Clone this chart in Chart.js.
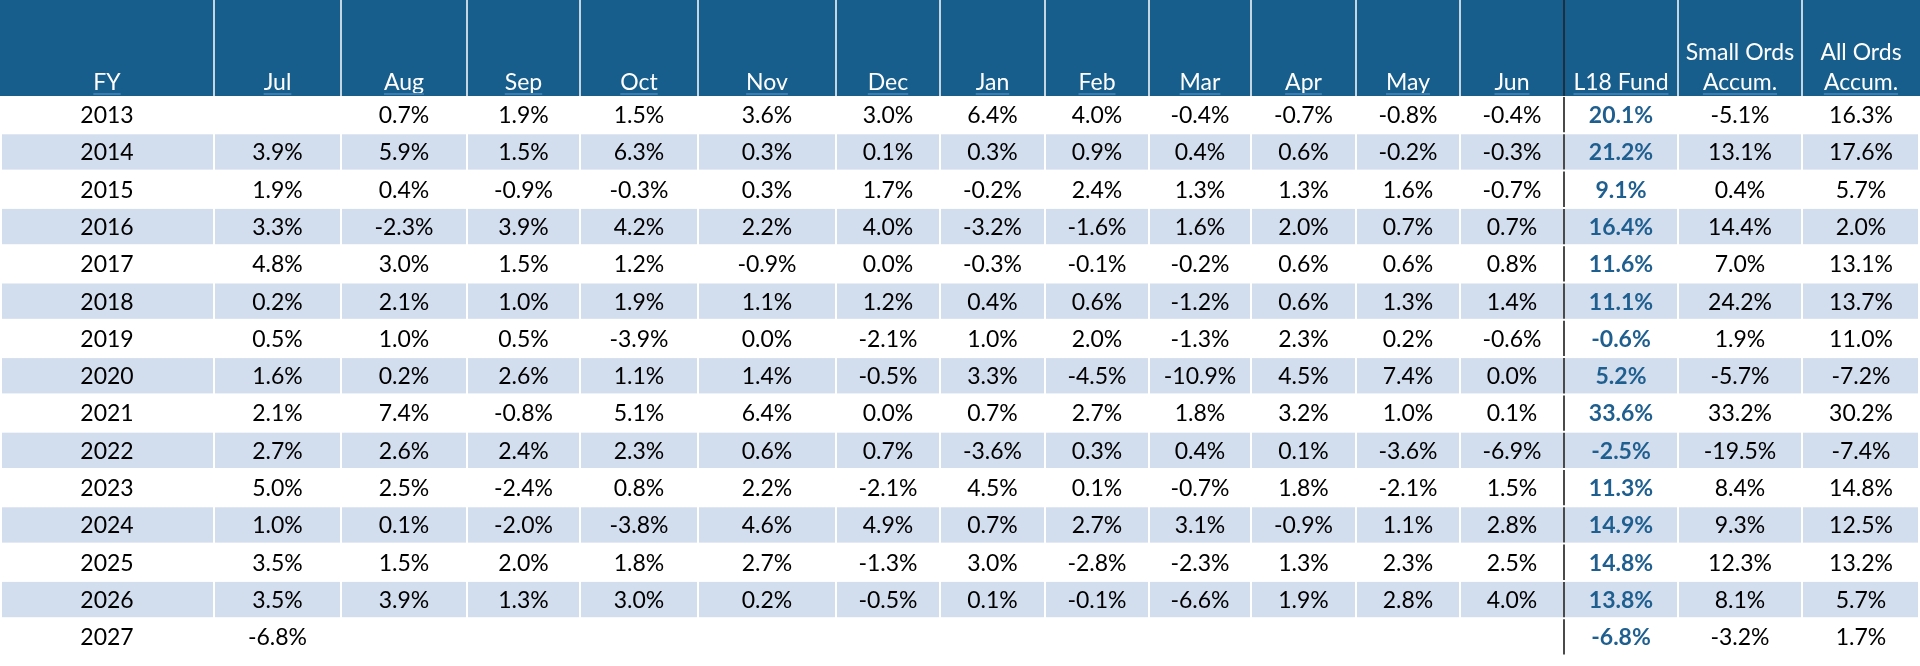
<!DOCTYPE html>
<html>
<head>
<meta charset="utf-8">
<title>L18 Fund monthly returns</title>
<script src="https://cdn.jsdelivr.net/npm/chart.js@4.4.1/dist/chart.umd.min.js"></script>
<style>
    html, body { margin: 0; padding: 0; background: #ffffff; }
    #wrap { width: 1920px; height: 666px; position: relative; }
</style>
</head>
<body>
<div id="wrap"><canvas id="table"></canvas></div>
<script>
// ---- data ----
const years = [2013, 2014, 2015, 2016, 2017, 2018, 2019, 2020, 2021, 2022, 2023, 2024, 2025, 2026, 2027];
const headerLabels = [['FY'], ['Jul'], ['Aug'], ['Sep'], ['Oct'], ['Nov'], ['Dec'], ['Jan'], ['Feb'], ['Mar'], ['Apr'], ['May'], ['Jun'],
    ['L18 Fund'], ['Small Ords', 'Accum.'], ['All Ords', 'Accum.']];

const jul = [null, 3.9, 1.9, 3.3, 4.8, 0.2, 0.5, 1.6, 2.1, 2.7, 5.0, 1.0, 3.5, 3.5, -6.8];
const aug = [0.7, 5.9, 0.4, -2.3, 3.0, 2.1, 1.0, 0.2, 7.4, 2.6, 2.5, 0.1, 1.5, 3.9, null];
const sep = [1.9, 1.5, -0.9, 3.9, 1.5, 1.0, 0.5, 2.6, -0.8, 2.4, -2.4, -2.0, 2.0, 1.3, null];
const oct = [1.5, 6.3, -0.3, 4.2, 1.2, 1.9, -3.9, 1.1, 5.1, 2.3, 0.8, -3.8, 1.8, 3.0, null];
const nov = [3.6, 0.3, 0.3, 2.2, -0.9, 1.1, 0.0, 1.4, 6.4, 0.6, 2.2, 4.6, 2.7, 0.2, null];
const dec = [3.0, 0.1, 1.7, 4.0, 0.0, 1.2, -2.1, -0.5, 0.0, 0.7, -2.1, 4.9, -1.3, -0.5, null];
const jan = [6.4, 0.3, -0.2, -3.2, -0.3, 0.4, 1.0, 3.3, 0.7, -3.6, 4.5, 0.7, 3.0, 0.1, null];
const feb = [4.0, 0.9, 2.4, -1.6, -0.1, 0.6, 2.0, -4.5, 2.7, 0.3, 0.1, 2.7, -2.8, -0.1, null];
const mar = [-0.4, 0.4, 1.3, 1.6, -0.2, -1.2, -1.3, -10.9, 1.8, 0.4, -0.7, 3.1, -2.3, -6.6, null];
const apr = [-0.7, 0.6, 1.3, 2.0, 0.6, 0.6, 2.3, 4.5, 3.2, 0.1, 1.8, -0.9, 1.3, 1.9, null];
const may = [-0.8, -0.2, 1.6, 0.7, 0.6, 1.3, 0.2, 7.4, 1.0, -3.6, -2.1, 1.1, 2.3, 2.8, null];
const jun = [-0.4, -0.3, -0.7, 0.7, 0.8, 1.4, -0.6, 0.0, 0.1, -6.9, 1.5, 2.8, 2.5, 4.0, null];
const l18Fund = [20.1, 21.2, 9.1, 16.4, 11.6, 11.1, -0.6, 5.2, 33.6, -2.5, 11.3, 14.9, 14.8, 13.8, -6.8];
const smallOrds = [-5.1, 13.1, 0.4, 14.4, 7.0, 24.2, 1.9, -5.7, 33.2, -19.5, 8.4, 9.3, 12.3, 8.1, -3.2];
const allOrds = [16.3, 17.6, 5.7, 2.0, 13.1, 13.7, 11.0, -7.2, 30.2, -7.4, 14.8, 12.5, 13.2, 5.7, 1.7];

const columns = [years, jul, aug, sep, oct, nov, dec, jan, feb, mar, apr, may, jun, l18Fund, smallOrds, allOrds];

// ---- layout (table units = reference pixels) ----
const colEdges = [0, 214, 341, 467, 580, 698, 836, 940, 1045, 1149, 1251, 1356, 1460, 1564, 1678, 1802, 1920];
const headerPx = 96;
const rowPx = 37.3;
const heightPx = 666;
const headerRows = headerPx / rowPx;
const bottomRows = (heightPx - headerPx - years.length * rowPx) / rowPx;
const fundCol = 13;

const HEADER_BG = '#175e8c';
const STRIPE_BG = '#d2ddee';
const FUND_TEXT = '#1f5f8f';
const FONT = '"Lato", "Noto Sans", sans-serif';
const FONT_PX = 23;

function fmt(col, v) {
    if (col === 0) return String(v);
    return v.toFixed(1) + '%';
}

const datasets = columns.map((values, c) => ({
    label: headerLabels[c].join(' '),
    data: values.map((v, i) => ({ x: (colEdges[c] + colEdges[c + 1]) / 2, y: i + 0.5, v: v })),
    pointRadius: 0,
    pointHoverRadius: 0,
    showLine: false,
}));

const tablePlugin = {
    id: 'tablePlugin',
    beforeDatasetsDraw(chart) {
        const { ctx, scales: { x, y } } = chart;
        ctx.save();
        const top = y.getPixelForValue(-headerRows);
        const hb = y.getPixelForValue(0);
        // header block
        ctx.fillStyle = HEADER_BG;
        ctx.fillRect(x.getPixelForValue(0), top, x.getPixelForValue(1920) - x.getPixelForValue(0), hb - top);
        ctx.strokeStyle = '#ffffff';
        ctx.lineWidth = 1.5;
        for (let c = 1; c < colEdges.length - 1; c++) {
            if (c === fundCol) continue;
            const px = x.getPixelForValue(colEdges[c]);
            ctx.beginPath();
            ctx.moveTo(px, top);
            ctx.lineTo(px, hb);
            ctx.stroke();
        }
        // striped rows
        ctx.fillStyle = STRIPE_BG;
        for (let i = 1; i < years.length; i += 2) {
            const y0 = y.getPixelForValue(i) + 1;
            const y1 = y.getPixelForValue(i + 1) - 1;
            for (let c = 0; c < colEdges.length - 1; c++) {
                const x0 = x.getPixelForValue(colEdges[c]) + (c === 0 ? 2 : 1);
                const x1 = x.getPixelForValue(colEdges[c + 1]) - (c === colEdges.length - 2 ? 2 : 1);
                ctx.fillRect(x0, y0, x1 - x0, y1 - y0);
            }
        }
        // divider before the fund column
        const fx = x.getPixelForValue(colEdges[fundCol]);
        ctx.strokeStyle = '#1c2f40';
        ctx.lineWidth = 2;
        ctx.beginPath();
        ctx.moveTo(fx, top);
        ctx.lineTo(fx, hb);
        ctx.stroke();
        ctx.strokeStyle = '#4a4a4a';
        for (let i = 0; i < years.length; i++) {
            ctx.beginPath();
            ctx.moveTo(fx, y.getPixelForValue(i) + 1);
            ctx.lineTo(fx, y.getPixelForValue(i + 1) - 1);
            ctx.stroke();
        }
        ctx.restore();
    },
    afterDatasetsDraw(chart) {
        const { ctx, scales: { x, y } } = chart;
        ctx.save();
        ctx.textAlign = 'center';
        // header labels, bottom aligned
        const hb = y.getPixelForValue(0);
        ctx.font = FONT_PX + 'px ' + FONT;
        headerLabels.forEach((lines, c) => {
            const cx = x.getPixelForValue((colEdges[c] + colEdges[c + 1]) / 2);
            ctx.textBaseline = 'alphabetic';
            ctx.fillStyle = '#ffffff';
            lines.forEach((line, k) => {
                const base = hb - 6 - (lines.length - 1 - k) * 30;
                ctx.fillText(line, cx, base);
            });
            const w = ctx.measureText(lines[lines.length - 1]).width;
            ctx.strokeStyle = '#3d7cae';
            ctx.lineWidth = 2;
            ctx.beginPath();
            ctx.moveTo(cx - w / 2, hb - 2);
            ctx.lineTo(cx + w / 2, hb - 2);
            ctx.stroke();
        });
        // cell values at the points placed by the scales
        ctx.textBaseline = 'middle';
        chart.data.datasets.forEach((ds, c) => {
            const meta = chart.getDatasetMeta(c);
            if (c === fundCol) {
                ctx.font = 'bold ' + FONT_PX + 'px ' + FONT;
                ctx.fillStyle = FUND_TEXT;
            } else {
                ctx.font = FONT_PX + 'px ' + FONT;
                ctx.fillStyle = '#000000';
            }
            meta.data.forEach((pt, i) => {
                const v = ds.data[i].v;
                if (v === null || v === undefined) return;
                ctx.fillText(fmt(c, v), pt.x, pt.y + 1);
            });
        });
        ctx.restore();
    }
};

new Chart(document.getElementById('table'), {
    type: 'scatter',
    data: { datasets },
    options: {
        responsive: true,
        maintainAspectRatio: false,
        animation: false,
        layout: { padding: 0 },
        events: [],
        plugins: {
            legend: { display: false },
            tooltip: { enabled: false },
        },
        scales: {
            x: { type: 'linear', min: 0, max: 1920, display: false },
            y: { type: 'linear', min: -headerRows, max: years.length + bottomRows, reverse: true, display: false },
        },
    },
    plugins: [tablePlugin],
});
</script>
</body>
</html>
